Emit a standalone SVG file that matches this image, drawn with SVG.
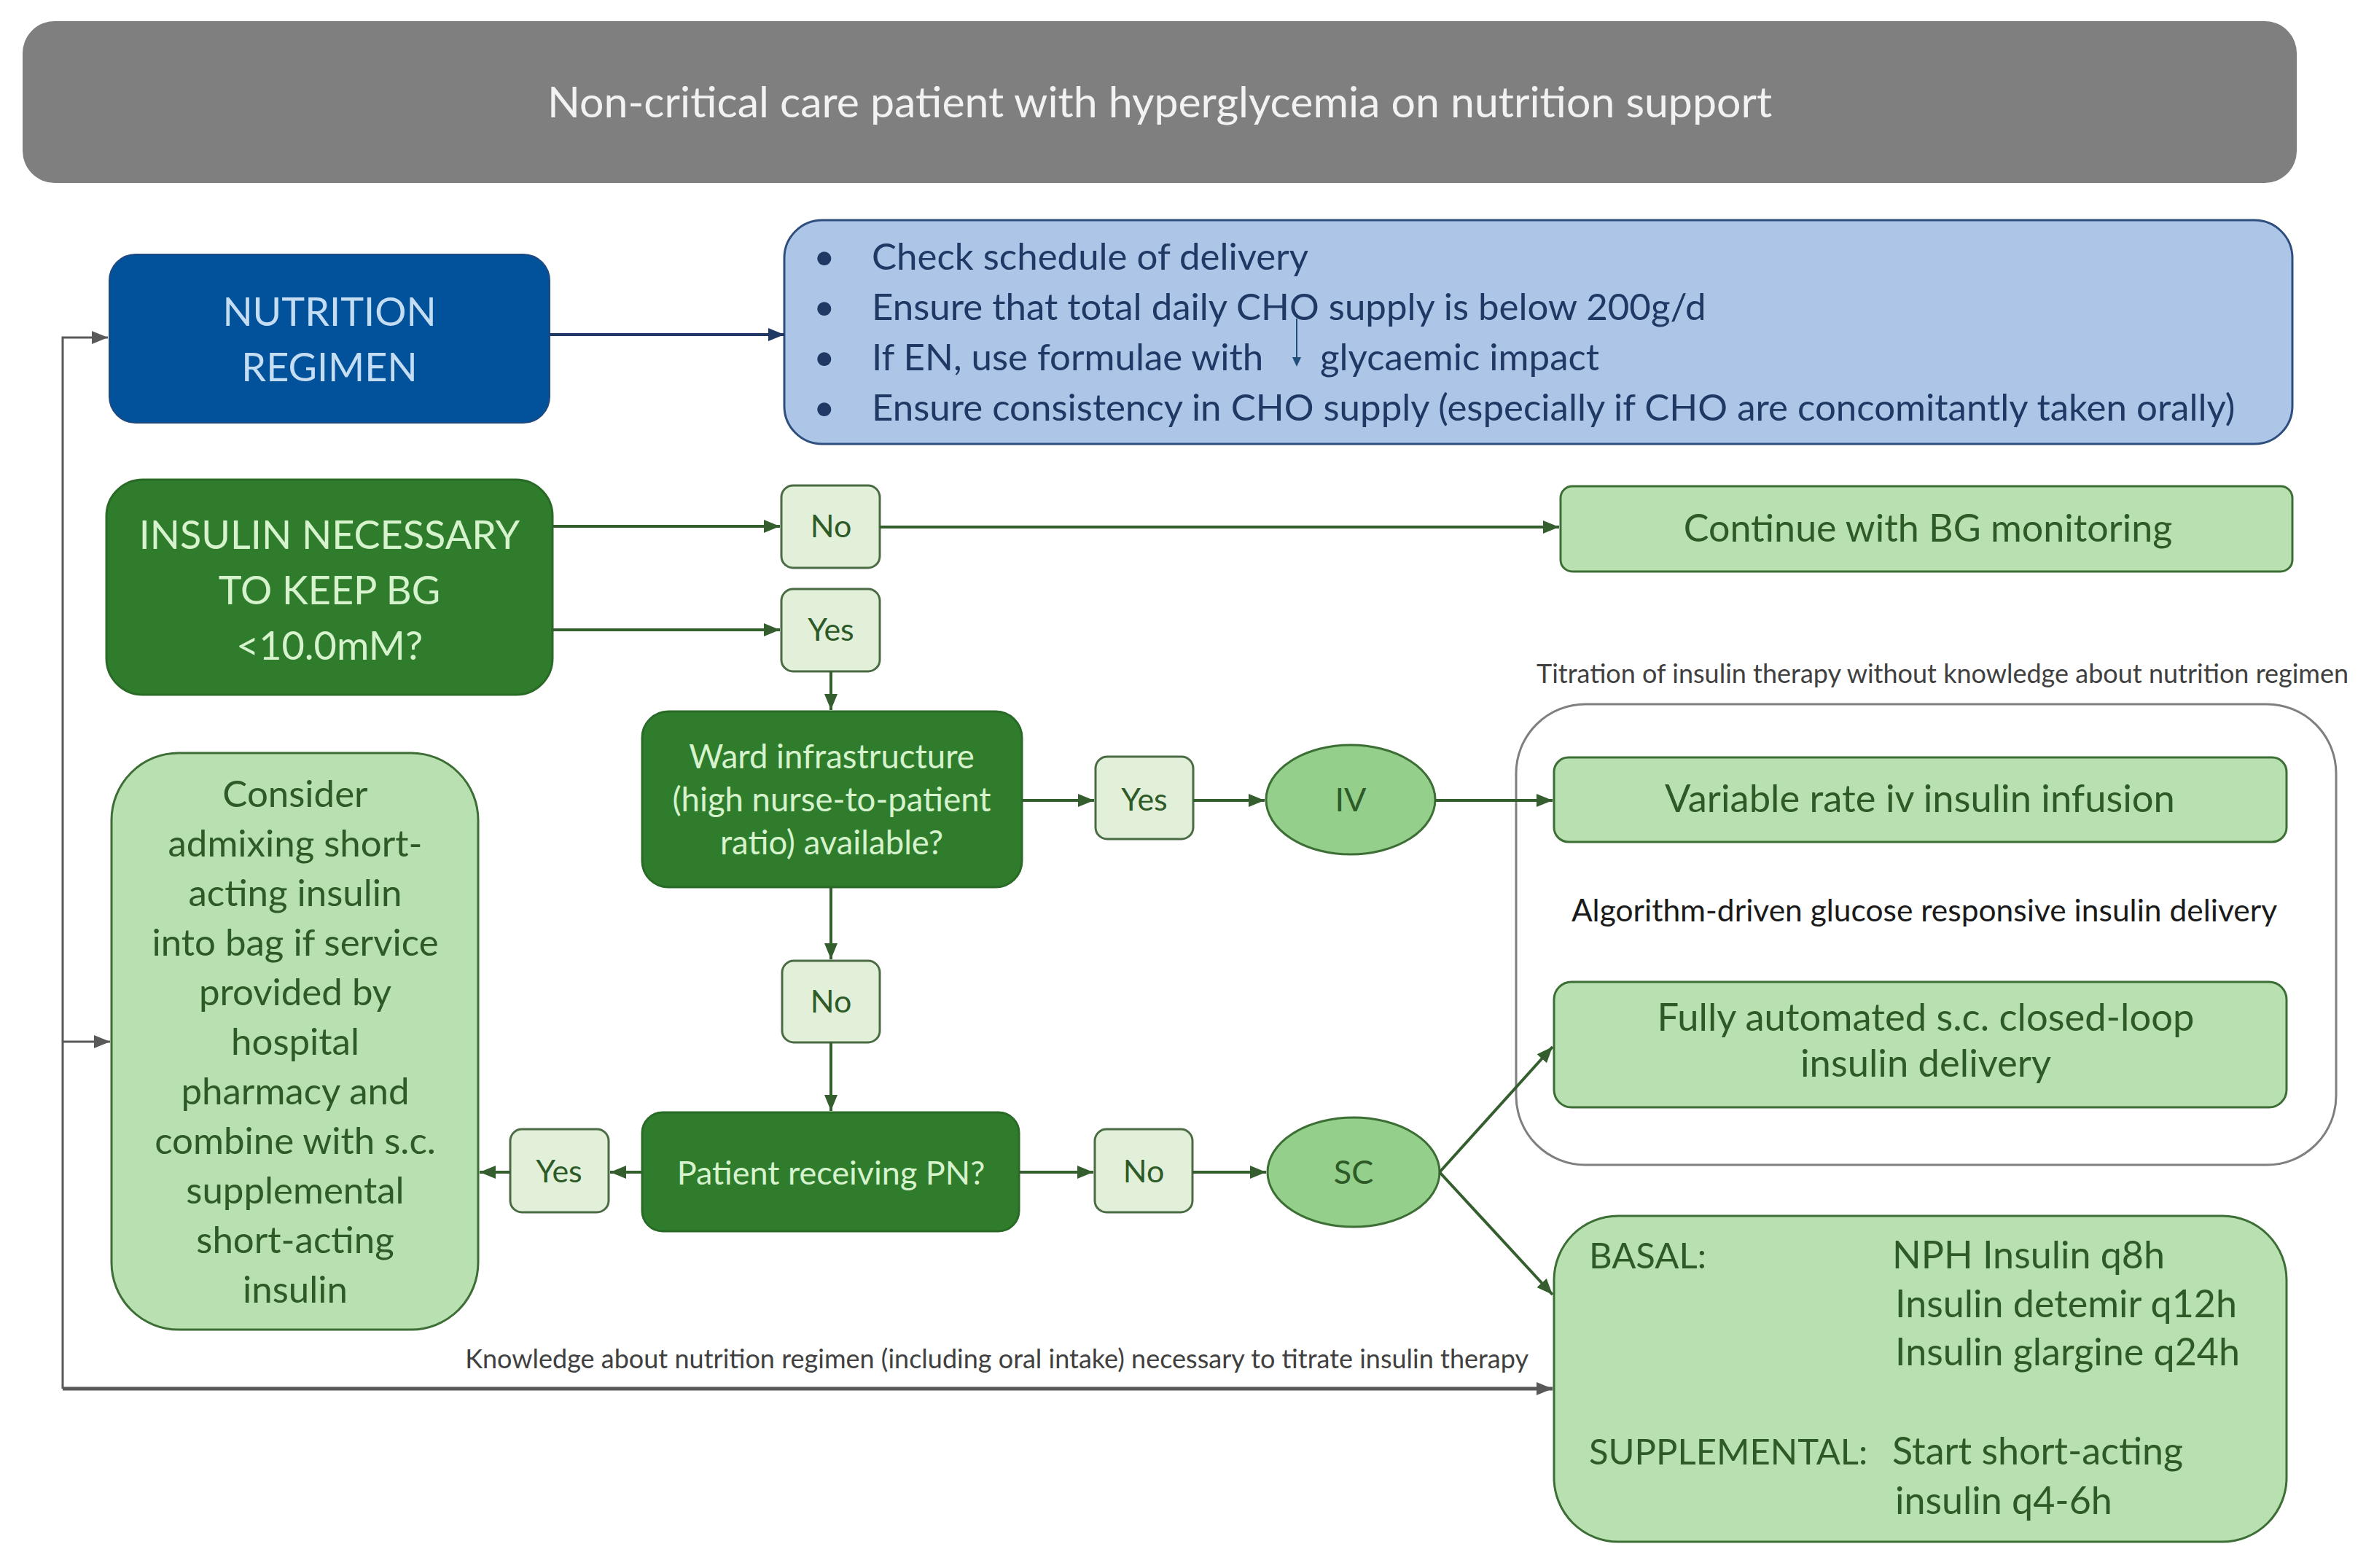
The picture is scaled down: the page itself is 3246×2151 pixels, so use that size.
<svg xmlns="http://www.w3.org/2000/svg" width="3246" height="2151" viewBox="0 0 3246 2151">
<style>
text{font-family:Lato,"Open Sans","Liberation Sans",sans-serif;}
.dk{fill:#2f7d2c;stroke:#2a6a27;stroke-width:3}
.lt{fill:#b8e0b0;stroke:#3c6e35;stroke-width:3}
.xl{fill:#e2f0d9;stroke:#4a6b44;stroke-width:3}
.el{fill:#94cf8b;stroke:#3c6e35;stroke-width:3}
.tdk{fill:#d6f3cd;text-anchor:middle}
.tg{fill:#2d5a27}
.tc{fill:#2d5a27;text-anchor:middle}
.cg{stroke:#355e2f;stroke-width:4;fill:none}
.cn{stroke:#1f3864;stroke-width:4;fill:none}
.cy{stroke:#595959;fill:none}
.bl{fill:#203864;font-size:51px}
.note{fill:#404040;font-size:36px}
</style>
<defs>
<marker id="ag" markerUnits="userSpaceOnUse" markerWidth="24" markerHeight="20" refX="22" refY="10" orient="auto"><path d="M0,1 L22,10 L0,19 Z" fill="#355e2f"/></marker>
<marker id="an" markerUnits="userSpaceOnUse" markerWidth="24" markerHeight="20" refX="22" refY="10" orient="auto"><path d="M0,1 L22,10 L0,19 Z" fill="#1f3864"/></marker>
<marker id="ay" markerUnits="userSpaceOnUse" markerWidth="24" markerHeight="20" refX="22" refY="10" orient="auto"><path d="M0,1 L22,10 L0,19 Z" fill="#595959"/></marker>
</defs>
<rect width="3246" height="2151" fill="#ffffff"/>

<g id="title">
<rect x="31" y="29" width="3120" height="222" rx="44" fill="#7f7f7f"/>
<text x="1591" y="161" font-size="59" fill="#f2f2f2" text-anchor="middle">Non-critical care patient with hyperglycemia on nutrition support</text>
</g>

<g id="nutrition-regimen">
<rect x="150" y="349" width="604" height="231" rx="36" fill="#02519b" stroke="#1f4a80" stroke-width="2"/>
<text x="452" y="447" font-size="54" fill="#c5ddf3" text-anchor="middle">NUTRITION</text>
<text x="452" y="523" font-size="54" fill="#c5ddf3" text-anchor="middle">REGIMEN</text>
</g>

<g id="nutrition-checks">
<rect x="1076" y="302" width="2069" height="307" rx="52" fill="#adc6e8" stroke="#2e4e7e" stroke-width="3"/>
<text class="bl" x="1116" y="370">•</text>
<text class="bl" x="1196" y="370">Check schedule of delivery</text>
<text class="bl" x="1116" y="439">•</text>
<text class="bl" x="1196" y="439">Ensure that total daily CHO supply is below 200g/d</text>
<text class="bl" x="1116" y="508">•</text>
<text class="bl" x="1196" y="508">If EN, use formulae with</text>
<text class="bl" x="1811" y="508">glycaemic impact</text>
<text class="bl" x="1116" y="577">•</text>
<text class="bl" x="1196" y="577">Ensure consistency in CHO supply (especially if CHO are concomitantly taken orally)</text>
<line x1="1779" y1="437" x2="1779" y2="492" stroke="#1f4e79" stroke-width="2"/>
<path d="M1773,490 L1785,490 L1779,503 Z" fill="#1f4e79"/>
</g>

<g id="insulin-necessary">
<rect class="dk" x="146" y="658" width="612" height="295" rx="50"/>
<text class="tdk" x="452" y="753" font-size="54">INSULIN NECESSARY</text>
<text class="tdk" x="452" y="829" font-size="54">TO KEEP BG</text>
<text class="tdk" x="452" y="905" font-size="54">&lt;10.0mM?</text>
</g>

<g id="no-1">
<rect class="xl" x="1072" y="666" width="135" height="113" rx="16"/>
<text class="tc" x="1140" y="737" font-size="43">No</text>
</g>
<g id="yes-1">
<rect class="xl" x="1072" y="808" width="135" height="113" rx="16"/>
<text class="tc" x="1140" y="879" font-size="43">Yes</text>
</g>

<g id="continue-monitoring">
<rect class="lt" x="2141" y="667" width="1004" height="117" rx="16"/>
<text class="tc" x="2645" y="743" font-size="52">Continue with BG monitoring</text>
</g>

<g id="ward-infrastructure">
<rect class="dk" x="881" y="976" width="521" height="241" rx="36"/>
<text class="tdk" x="1141" y="1054" font-size="45.5">Ward infrastructure</text>
<text class="tdk" x="1141" y="1113" font-size="45.5">(high nurse-to-patient</text>
<text class="tdk" x="1141" y="1172" font-size="45.5">ratio) available?</text>
</g>

<g id="yes-2">
<rect class="xl" x="1503" y="1038" width="134" height="113" rx="16"/>
<text class="tc" x="1570" y="1112" font-size="43">Yes</text>
</g>

<g id="iv">
<ellipse class="el" cx="1853" cy="1097" rx="116" ry="75"/>
<text class="tc" x="1853" y="1113" font-size="45">IV</text>
</g>

<g id="titration-group">
<rect x="2080" y="966" width="1125" height="632" rx="95" fill="none" stroke="#7f7f7f" stroke-width="3"/>
<text class="note" x="2108" y="937">Titration of insulin therapy without knowledge about nutrition regimen</text>
<text x="2640" y="1264" font-size="42.5" fill="#1a1a1a" text-anchor="middle">Algorithm-driven glucose responsive insulin delivery</text>
</g>

<g id="variable-rate">
<rect class="lt" x="2132" y="1039" width="1005" height="116" rx="20"/>
<text class="tc" x="2634" y="1114" font-size="52.5">Variable rate iv insulin infusion</text>
</g>

<g id="closed-loop">
<rect class="lt" x="2132" y="1347" width="1005" height="172" rx="24"/>
<text class="tc" x="2642" y="1414" font-size="52.5">Fully automated s.c. closed-loop</text>
<text class="tc" x="2642" y="1477" font-size="52.5">insulin delivery</text>
</g>

<g id="no-2">
<rect class="xl" x="1073" y="1318" width="134" height="112" rx="16"/>
<text class="tc" x="1140" y="1389" font-size="43">No</text>
</g>

<g id="receiving-pn">
<rect class="dk" x="881" y="1526" width="517" height="163" rx="28"/>
<text class="tdk" x="1140" y="1625" font-size="45">Patient receiving PN?</text>
</g>

<g id="no-3">
<rect class="xl" x="1502" y="1549" width="134" height="114" rx="16"/>
<text class="tc" x="1569" y="1622" font-size="43">No</text>
</g>

<g id="sc">
<ellipse class="el" cx="1857" cy="1608" rx="118" ry="75"/>
<text class="tc" x="1857" y="1624" font-size="45">SC</text>
</g>

<g id="yes-3">
<rect class="xl" x="700" y="1549" width="135" height="114" rx="16"/>
<text class="tc" x="767" y="1622" font-size="43">Yes</text>
</g>

<g id="consider-admixing">
<rect class="lt" x="153" y="1033" width="503" height="791" rx="92"/>
<text class="tc" x="405" y="1107" font-size="51">Consider</text>
<text class="tc" x="405" y="1175" font-size="51">admixing short-</text>
<text class="tc" x="405" y="1243" font-size="51">acting insulin</text>
<text class="tc" x="405" y="1311" font-size="51">into bag if service</text>
<text class="tc" x="405" y="1379" font-size="51">provided by</text>
<text class="tc" x="405" y="1447" font-size="51">hospital</text>
<text class="tc" x="405" y="1515" font-size="51">pharmacy and</text>
<text class="tc" x="405" y="1583" font-size="51">combine with s.c.</text>
<text class="tc" x="405" y="1651" font-size="51">supplemental</text>
<text class="tc" x="405" y="1719" font-size="51">short-acting</text>
<text class="tc" x="405" y="1787" font-size="51">insulin</text>
</g>

<g id="basal-supplemental">
<rect class="lt" x="2132" y="1668" width="1005" height="447" rx="88"/>
<text class="tg" x="2180" y="1740" font-size="49">BASAL:</text>
<text class="tg" x="2596" y="1740" font-size="52">NPH Insulin q8h</text>
<text class="tg" x="2600" y="1807" font-size="52">Insulin detemir q12h</text>
<text class="tg" x="2600" y="1873" font-size="52">Insulin glargine q24h</text>
<text class="tg" x="2180" y="2009" font-size="49">SUPPLEMENTAL:</text>
<text class="tg" x="2596" y="2009" font-size="52">Start short-acting</text>
<text class="tg" x="2600" y="2077" font-size="52">insulin q4-6h</text>
</g>

<g id="knowledge-note">
<text class="note" x="2097" y="1877" text-anchor="end">Knowledge about nutrition regimen (including oral intake) necessary to titrate insulin therapy</text>
</g>

<g id="connectors">
<path class="cn" d="M754,459 H1076" marker-end="url(#an)"/>
<path class="cy" stroke-width="3" d="M86,1905 V463 H148" marker-end="url(#ay)"/>
<path class="cy" stroke-width="3" d="M86,1429 H151" marker-end="url(#ay)"/>
<path class="cy" stroke-width="5" d="M86,1905 H2130" marker-end="url(#ay)"/>
<path class="cg" d="M758,722 H1070" marker-end="url(#ag)"/>
<path class="cg" d="M758,864 H1070" marker-end="url(#ag)"/>
<path class="cg" d="M1207,723 H2139" marker-end="url(#ag)"/>
<path class="cg" d="M1140,921 V974" marker-end="url(#ag)"/>
<path class="cg" d="M1402,1098 H1501" marker-end="url(#ag)"/>
<path class="cg" d="M1637,1098 H1735" marker-end="url(#ag)"/>
<path class="cg" d="M1969,1098 H2130" marker-end="url(#ag)"/>
<path class="cg" d="M1140,1217 V1316" marker-end="url(#ag)"/>
<path class="cg" d="M1140,1430 V1524" marker-end="url(#ag)"/>
<path class="cg" d="M1398,1608 H1500" marker-end="url(#ag)"/>
<path class="cg" d="M1636,1608 H1737" marker-end="url(#ag)"/>
<path class="cg" d="M881,1608 H837" marker-end="url(#ag)"/>
<path class="cg" d="M700,1608 H658" marker-end="url(#ag)"/>
<path class="cg" d="M1975,1608 L2130,1436" marker-end="url(#ag)"/>
<path class="cg" d="M1975,1608 L2130,1776" marker-end="url(#ag)"/>
</g>
</svg>
